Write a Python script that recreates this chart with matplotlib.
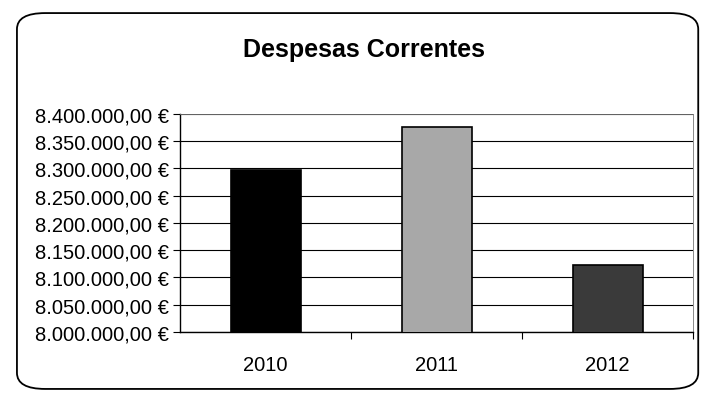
import matplotlib.pyplot as plt
import matplotlib.patches as patches
from matplotlib.ticker import FuncFormatter, MultipleLocator

anos = ['2010', '2011', '2012']
despesas = [8298000, 8377000, 8123000]
cores = ['#000000', '#a8a8a8', '#3a3a3a']

plt.rcParams['font.family'] = ['Liberation Sans', 'DejaVu Sans']


def euro(v, pos):
    s = f"{v:,.2f}"
    s = s.replace(',', 'X').replace('.', ',').replace('X', '.')
    return s + ' €'


fig = plt.figure(figsize=(7.06, 4.02), dpi=100)

# moldura arredondada (atrás dos eixos)
caixa = patches.FancyBboxPatch((0.024, 0.03), 0.965, 0.935,
                               boxstyle='round,pad=0,rounding_size=0.04',
                               transform=fig.transFigure, facecolor='white',
                               edgecolor='black', linewidth=1.3, zorder=-10)
fig.patches.append(caixa)

ax = fig.add_axes([0.255, 0.172, 0.727, 0.542])
ax.set_facecolor('none')

x = range(len(anos))
ax.bar(x, despesas, width=0.41, color=cores, edgecolor='black', linewidth=1.2,
       zorder=3)

ax.set_ylim(8000000, 8400000)
ax.set_xlim(-0.5, 2.5)
ax.yaxis.set_major_locator(MultipleLocator(50000))
ax.yaxis.set_major_formatter(FuncFormatter(euro))
ax.grid(axis='y', color='black', linewidth=0.8, zorder=0)

ax.set_xticks(list(x))
ax.set_xticklabels(anos)
ax.set_xticks([0.5, 1.5, 2.5], minor=True)
ax.tick_params(axis='x', which='major', length=0, pad=17, labelsize=14.5)
ax.tick_params(axis='x', which='minor', length=5, direction='out', width=0.8)
ax.tick_params(axis='y', length=5, direction='out', width=0.8, labelsize=14.5,
               pad=3)

for lado in ['top', 'right']:
    ax.spines[lado].set_color('#777777')
    ax.spines[lado].set_linewidth(0.6)
ax.spines['left'].set_linewidth(1.0)
ax.spines['bottom'].set_linewidth(1.0)

fig.text(0.515, 0.875, 'Despesas Correntes', ha='center', va='center',
         fontsize=18, fontweight='bold')

fig.savefig('out.png', dpi=100)
